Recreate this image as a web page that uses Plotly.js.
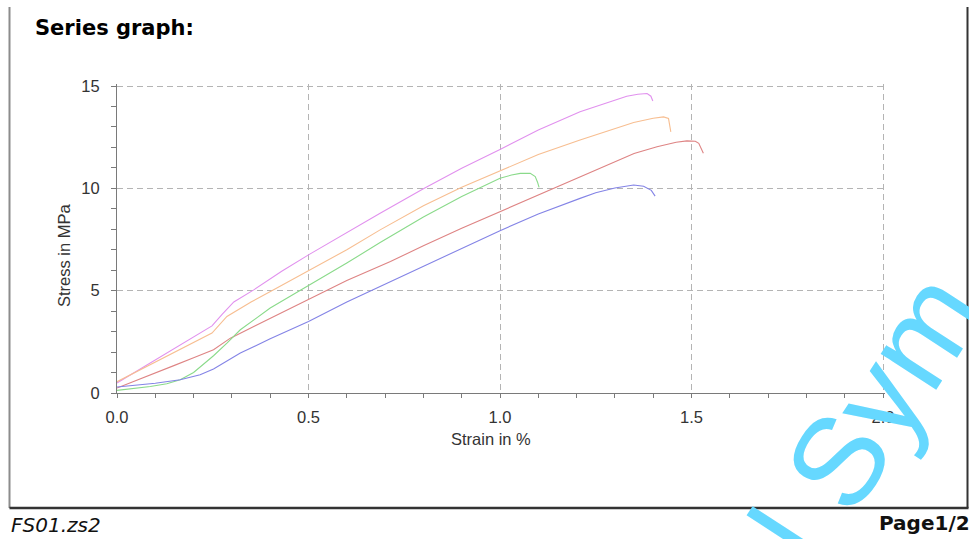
<!DOCTYPE html>
<html>
<head>
<meta charset="utf-8">
<script src="https://cdn.plot.ly/plotly-3.0.1.min.js"></script>
<style>html,body{margin:0;padding:0;background:#fff;}#chart{width:969px;height:539px;}</style>
</head>
<body>
<div id="chart"></div>
<script>
// Series data (strain in %, stress in MPa)
const violetStrain = [0,0.05,0.1,0.15,0.2,0.248,0.275,0.305,0.357,0.43,0.5,0.6,0.687,0.8,0.9,1.0,1.1,1.209,1.28,1.331,1.36,1.384,1.394,1.399];
const violetStress = [0.49,1.05,1.6,2.18,2.73,3.28,3.85,4.45,5.04,5.95,6.75,7.85,8.78,9.98,10.98,11.9,12.85,13.74,14.2,14.5,14.6,14.63,14.5,14.27];

const orangeStrain = [0,0.05,0.1,0.15,0.2,0.248,0.287,0.35,0.409,0.5,0.6,0.687,0.8,0.9,1.0,1.1,1.209,1.28,1.349,1.4,1.427,1.44,1.446];
const orangeStress = [0.55,1.03,1.5,1.98,2.47,2.93,3.74,4.45,5.04,5.98,7.0,7.97,9.15,10.05,10.86,11.65,12.36,12.8,13.22,13.42,13.49,13.41,12.76];

const redStrain = [0,0.05,0.1,0.15,0.2,0.252,0.296,0.4,0.5,0.6,0.714,0.8,0.9,1.0,1.1,1.2,1.25,1.3,1.35,1.41,1.46,1.488,1.51,1.519,1.531];
const redStress = [0.24,0.6,0.98,1.35,1.72,2.11,2.68,3.65,4.58,5.5,6.42,7.2,8.05,8.86,9.7,10.5,10.9,11.3,11.7,12.03,12.25,12.32,12.3,12.2,11.71];

const greenStrain = [0,0.05,0.087,0.13,0.165,0.2,0.252,0.287,0.322,0.4,0.5,0.6,0.687,0.8,0.9,1.0,1.03,1.053,1.079,1.092,1.098,1.102];
const greenStress = [0.13,0.22,0.32,0.45,0.65,1.0,1.82,2.44,3.09,4.15,5.23,6.35,7.35,8.6,9.6,10.49,10.65,10.73,10.73,10.57,10.3,10.05];

const blueStrain = [0,0.05,0.1,0.165,0.217,0.252,0.322,0.4,0.5,0.6,0.714,0.8,0.9,1.0,1.1,1.16,1.209,1.25,1.3,1.349,1.375,1.395,1.405];
const blueStress = [0.29,0.38,0.48,0.65,0.89,1.17,1.95,2.65,3.49,4.45,5.44,6.2,7.05,7.93,8.75,9.18,9.51,9.78,10.02,10.16,10.1,9.9,9.62];

const xTickVals = [0,0.5,1.0,1.5,2.0];
const xTickText = ["0.0","0.5","1.0","1.5","2.0"];
const yTickVals = [0,5,10,15];
const yTickText = ["0","5","10","15"];

const series = [
  {x: violetStrain, y: violetStress, color: "rgb(225,145,238)"},
  {x: orangeStrain, y: orangeStress, color: "rgb(247,190,145)"},
  {x: redStrain,    y: redStress,    color: "rgb(222,132,132)"},
  {x: greenStrain,  y: greenStress,  color: "rgb(138,218,138)"},
  {x: blueStrain,   y: blueStress,   color: "rgb(132,132,230)"}
];

const traces = series.map(s => ({
  type: "scatter", mode: "lines", x: s.x, y: s.y,
  line: {color: s.color, width: 1.1}, hoverinfo: "skip", showlegend: false
}));

const axisFont = {family: "Liberation Sans, Arial, sans-serif", size: 16.5, color: "#333"};
const gridDash = "6px,4px";

// plot area in pixels (range slightly padded so the 15 / 2.0 grid lines are kept)
const L = 117, R = 885, T = 84, B = 393;
const px = v => (v - L) / (R - L);
const py = v => (B - v) / (B - T);
const xMax = (R - L) / 383;   // 383 px per strain unit
const yMax = (B - T) / 20.467; // 20.467 px per MPa

const layout = {
  width: 969, height: 539,
  margin: {l: L, r: 969 - R, t: T, b: 539 - B},
  paper_bgcolor: "#fff", plot_bgcolor: "#fff",
  showlegend: false,
  title: {
    text: "Series graph:",
    font: {family: "DejaVu Sans", size: 21, color: "#000", weight: "bold"},
    xref: "container", yref: "container", x: 35/969, xanchor: "left",
    y: 1 - 28/539, yanchor: "middle"
  },
  xaxis: {
    range: [0, xMax], tickvals: xTickVals, ticktext: xTickText,
    showgrid: true, gridcolor: "#b4b4b4", gridwidth: 1, griddash: gridDash,
    zeroline: false, showline: true, linecolor: "#7a7a7a", linewidth: 1,
    ticks: "outside", ticklen: 4, tickcolor: "#7a7a7a", tickwidth: 1,
    minor: {dtick: 0.1, ticks: "outside", ticklen: 4, tickcolor: "#7a7a7a", showgrid: false},
    tickfont: axisFont, ticklabelstandoff: 5, fixedrange: true
  },
  xaxis2: {
    overlaying: "x", anchor: "y", range: [0, xMax], dtick: 0.5, tick0: 0,
    showgrid: false, zeroline: false, showline: false, showticklabels: false,
    ticks: "inside", ticklen: 5, tickcolor: "#7a7a7a", tickwidth: 1,
    minor: {dtick: 0.1, ticks: "inside", ticklen: 5, tickcolor: "#7a7a7a", showgrid: false}
  },
  yaxis: {
    range: [0, yMax], tickvals: yTickVals, ticktext: yTickText,
    showgrid: true, gridcolor: "#b4b4b4", gridwidth: 1, griddash: gridDash,
    zeroline: false, showline: true, linecolor: "#7a7a7a", linewidth: 1,
    ticks: "outside", ticklen: 5, tickcolor: "#7a7a7a", tickwidth: 1,
    minor: {dtick: 1, ticks: "outside", ticklen: 5, tickcolor: "#7a7a7a", showgrid: false},
    tickfont: axisFont, ticklabelstandoff: 8, fixedrange: true
  },
  yaxis2: {
    overlaying: "y", anchor: "x", range: [0, yMax], dtick: 5, tick0: 0,
    showgrid: false, zeroline: false, showline: false, showticklabels: false,
    ticks: "inside", ticklen: 5, tickcolor: "#7a7a7a", tickwidth: 1,
    minor: {dtick: 1, ticks: "inside", ticklen: 5, tickcolor: "#7a7a7a", showgrid: false}
  },
  annotations: [
    {text: "Strain in %", xref: "paper", yref: "paper", x: px(490.5), y: py(439),
     xanchor: "center", yanchor: "middle", showarrow: false, font: axisFont},
    {text: "Stress in MPa", xref: "paper", yref: "paper", x: px(64), y: py(255),
     xanchor: "center", yanchor: "middle", textangle: -90, showarrow: false, font: axisFont},
    {text: "l\u00a0Sym", xref: "paper", yref: "paper", x: px(866), y: py(417),
     xanchor: "center", yanchor: "middle", textangle: -57, showarrow: false,
     font: {family: "Liberation Sans, Arial, sans-serif", size: 125, color: "rgb(102,216,255)"}},
    {text: "FS01.zs2", xref: "paper", yref: "paper", x: px(9), y: py(525),
     xanchor: "left", yanchor: "middle", showarrow: false,
     font: {family: "DejaVu Sans", size: 20, color: "#111", style: "italic"}},
    {text: "Page1/2", xref: "paper", yref: "paper", x: px(972), y: py(523),
     xanchor: "right", yanchor: "middle", showarrow: false,
     font: {family: "DejaVu Sans", size: 20, color: "#111", weight: "bold"}}
  ],
  shapes: [
    {type: "line", xref: "paper", yref: "paper", x0: px(9.5), x1: px(9.5), y0: py(7), y1: py(508),
     line: {color: "#8c8c8c", width: 2}},
    {type: "line", xref: "paper", yref: "paper", x0: px(967.5), x1: px(967.5), y0: py(7), y1: py(508),
     line: {color: "#333", width: 2}},
    {type: "line", xref: "paper", yref: "paper", x0: px(9.5), x1: px(968.5), y0: py(508), y1: py(508),
     line: {color: "#333", width: 2.5}}
  ]
};

Plotly.newPlot("chart", traces, layout, {staticPlot: true, displayModeBar: false});
</script>
</body>
</html>
